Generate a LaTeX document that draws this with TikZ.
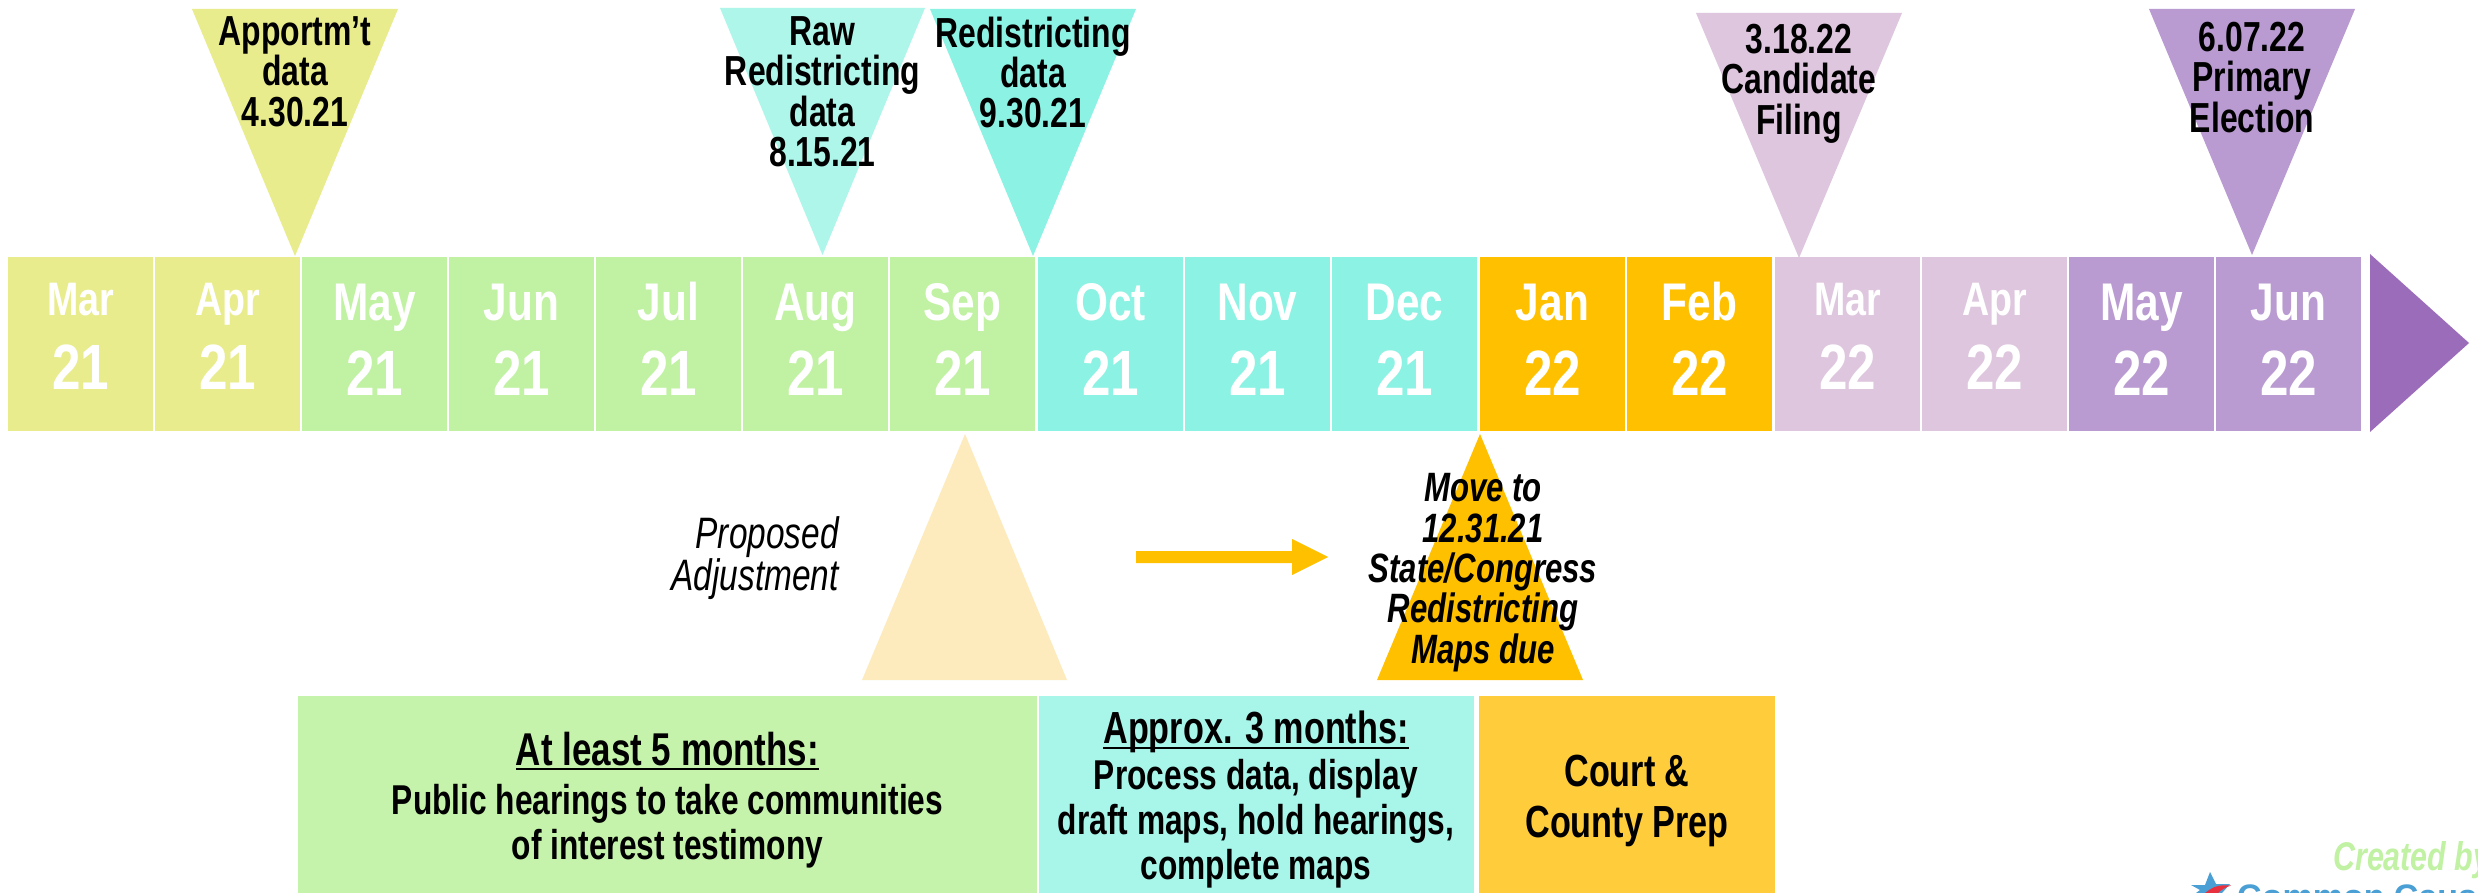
\documentclass[tikz,border=0pt]{standalone}
\usepackage{fontspec}
\setmainfont[FakeStretch=0.8]{Liberation Sans}
\newfontfamily\nar[FakeStretch=0.76]{Liberation Sans}
\newfontfamily\wid{Liberation Sans}
\definecolor{cyel}{HTML}{E9EC8C}
\definecolor{cgrn}{HTML}{C1F1A3}
\definecolor{cteal}{HTML}{8CF2E4}
\definecolor{corg}{HTML}{FFC000}
\definecolor{clil}{HTML}{DEC6DE}
\definecolor{cpur}{HTML}{B99BD1}
\definecolor{carr}{HTML}{9B6CBA}
\definecolor{craw}{HTML}{AEF6EA}
\definecolor{cpale}{HTML}{FDEBBE}
\definecolor{cbxa}{HTML}{C6F3AB}
\definecolor{cbxb}{HTML}{A8F5EA}
\definecolor{cbxc}{HTML}{FFCD3C}
\definecolor{cblue}{HTML}{4A9FD4}
\definecolor{cred}{HTML}{E8303F}
\newcommand{\fs}[2]{\fontsize{#1}{#2}\selectfont}
\newcommand{\cell}[6]{% name, x, fill, month, year, dy
  \fill[#3] (#2,257) rectangle ++(145,174);
  \node[mon] (#1m) at (#2+72.5,320.7-#6) {#4};
  \node[yr] (#1y) at (#2+72.5,395-#6) {#5};
}
\newcommand{\cellb}[6]{%
  \fill[#3] (#2,257) rectangle ++(145,174);
  \node[monb] (#1m) at (#2+72.5,320.7-#6) {#4};
  \node[yr] (#1y) at (#2+72.5,395-#6) {#5};
}
\tikzset{
  x=1pt,y=-1pt,
  mon/.style={anchor=base,text=white,font=\fs{53}{53}\bfseries,inner sep=0pt},
  monb/.style={anchor=base,text=white,font=\fs{47}{47}\bfseries,inner sep=0pt},
  yr/.style={anchor=base,text=white,font=\fs{64}{64}\bfseries,inner sep=0pt},
  tri/.style={align=center,text=black,font=\nar\fs{42}{40.3}\bfseries,inner sep=0pt,anchor=north},
  tril/.style={align=center,text=black,font=\nar\fs{41}{40.3}\bfseries\itshape,inner sep=0pt,anchor=north},
  bxh/.style={anchor=base,inner sep=0pt,text=black,font=\nar\fs{46}{46}\bfseries},
  bxt/.style={anchor=base,inner sep=0pt,text=black,font=\nar\fs{41.7}{42}\bfseries},
  bxc/.style={anchor=base,inner sep=0pt,text=black,font=\nar\fs{45}{46}\bfseries},
  ul/.style={line width=2.3pt,black},
}
\begin{document}
\begin{tikzpicture}
\useasboundingbox (0,0) rectangle (2478,893);
\clip (0,0) rectangle (2478,893);
\fill[white] (0,0) rectangle (2478,893);
% month cells
\cellb{a}{8}{cyel}{Mar}{21}{5.7}
\cellb{b}{155}{cyel}{Apr}{21}{5.7}
\cell{c}{302}{cgrn}{May}{21}{0}
\cell{d}{449}{cgrn}{Jun}{21}{0}
\cell{e}{596}{cgrn}{Jul}{21}{0}
\cell{f}{743}{cgrn}{Aug}{21}{0}
\cell{g}{890}{cgrn}{Sep}{21}{0}
\cell{h}{1038}{cteal}{Oct}{21}{0}
\cell{i}{1185}{cteal}{Nov}{21}{0}
\cell{j}{1332}{cteal}{Dec}{21}{0}
\cell{k}{1480}{corg}{Jan}{22}{0}
\cell{l}{1627}{corg}{Feb}{22}{0}
\cellb{m}{1775}{clil}{Mar}{22}{5.7}
\cellb{n}{1922}{clil}{Apr}{22}{5.7}
\cell{o}{2069}{cpur}{May}{22}{0}
\cell{p}{2216}{cpur}{Jun}{22}{0}
\fill[carr] (2370,254) -- (2469,343) -- (2370,432) -- cycle;
% top triangles
\fill[cyel] (192,9) -- (398,9) -- (295,256) -- cycle;
\node[tri] (t1) at (295,16.5) {Apportm’t\\data\\4.30.21};
\fill[craw] (720,8) -- (925,8) -- (822.5,255) -- cycle;
\node[tri] (t2) at (822.5,16.5) {Raw\\Redistricting\\data\\8.15.21};
\fill[cteal] (930,9) -- (1136,9) -- (1033,256) -- cycle;
\node[tri] (t3) at (1033,16.5) {Redistricting\\data\\9.30.21};
\fill[clil] (1696,13) -- (1902,13) -- (1799,258) -- cycle;
\node[tri] (t4) at (1799,24) {3.18.22\\Candidate\\Filing};
\fill[cpur] (2149,9) -- (2355,9) -- (2252,255) -- cycle;
\node[tri] (t5) at (2252,22) {6.07.22\\Primary\\Election};
% lower triangles
\fill[cpale] (965,434) -- (1067,680) -- (862,680) -- cycle;
\node[align=right,anchor=north east,inner sep=0pt,font=\nar\fs{44}{40.3}\itshape] (pa) at (839,516) {Proposed\\Adjustment};
\fill[corg] (1480,434) -- (1583,680) -- (1377,680) -- cycle;
\node[tril] (t6) at (1483,473.5) {Move to\\12.31.21\\State/Congress\\Redistricting\\Maps due};
% arrow
\coordinate (as) at (1136,557);
\coordinate (ae) at (1328,557);
\fill[corg] (as) ++(0,-6) -- (1292,551) -- (1292,539) -- (ae) -- (1292,575) -- (1292,563) -- (1136,563) -- cycle;
% boxes
\fill[cbxa] (298,696) rectangle (1037,893);
\fill[cbxb] (1039,696) rectangle (1474,893);
\fill[cbxc] (1479,696) rectangle (1775,893);
\node[bxh] (b1h) at (667.5,765) {At least 5 months:};
\draw[ul] ([yshift=-4pt]b1h.base west) -- ([yshift=-4pt]b1h.base east);
\node[bxt] (b1a) at (667.5,814.5) {Public hearings to take communities};
\node[bxt] (b1b) at (667.5,859.5) {of interest testimony};
\node[bxc] (b2h) at (1256,743) {Approx. 3 months:};
\draw[ul] ([yshift=-5pt]b2h.base west) -- ([yshift=-5pt]b2h.base east);
\node[bxt] (b2a) at (1256,789.5) {Process data, display};
\node[bxt] (b2b) at (1256,834.5) {draft maps, hold hearings,};
\node[bxt] (b2c) at (1256,879.5) {complete maps};
\node[bxc] (b3a) at (1627,786.5) {Court \&};
\node[bxc] (b3b) at (1627,837.5) {County Prep};
% credit and logo
\node[anchor=base west,inner sep=0pt,text=cgrn,font=\nar\fs{40}{40}\bfseries\itshape] (cr) at (2333,870) {Created by};
\fill[cblue] (2210,872) -- (2216,884) -- (2230,884) -- (2222,893) -- (2196,893) -- (2200,890) -- (2191,885) -- (2205,885) -- cycle;
\fill[cred] (2205,893) .. controls (2215,885) and (2220,885) .. (2231,885.5) .. controls (2226,887) and (2221,890) .. (2218,893) -- cycle;
\node[anchor=base west,inner sep=0pt,text=cblue,font=\wid\fs{34}{34}\bfseries] (lg) at (2237,908) {Common Cause};
\end{tikzpicture}
\end{document}
